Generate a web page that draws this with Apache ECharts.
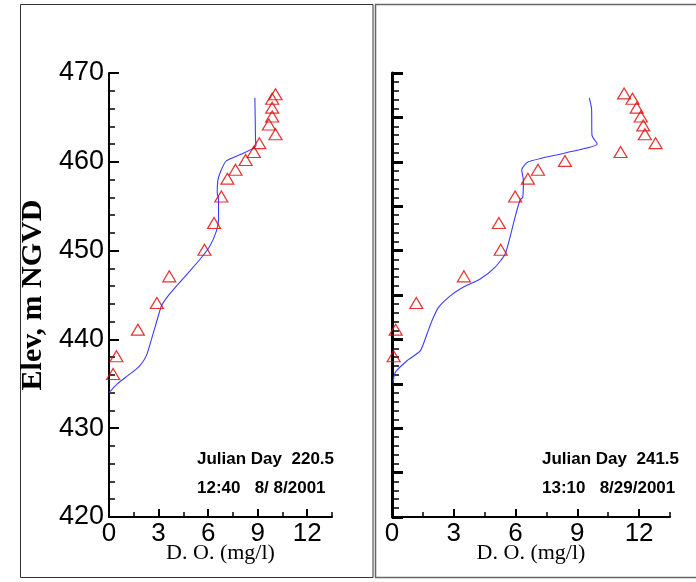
<!DOCTYPE html>
<html>
<head>
<meta charset="utf-8">
<script src="https://cdn.jsdelivr.net/npm/echarts@6/dist/echarts.min.js"></script>
<style>
html,body{margin:0;padding:0;background:#fff;}
#c{width:696px;height:582px;}
</style>
</head>
<body>
<div id="c"></div>
<script>
// ---- Data ----
var xMajorTicks = [0, 3, 6, 9, 12];
var xMinorTicks = [1.5, 4.5, 7.5, 10.5, 13.5];
var yTickLabels = [420, 430, 440, 450, 460, 470];

// Left panel (Julian Day 220.5) observed D.O. (triangles)
var leftObsDO   = [0.25, 0.45, 1.75, 2.9, 3.65, 5.78, 6.36, 6.8, 7.17, 7.66, 8.27, 8.77, 9.1, 10.08, 9.68, 9.88, 9.88, 9.88, 10.08];
var leftObsElev = [436.1, 438.1, 441.1, 444.1, 447.1, 450.1, 453.1, 456.1, 458.1, 459.1, 460.2, 461.1, 462.1, 463.1, 464.2, 465.1, 466.1, 467.1, 467.6];
// Left panel model D.O. (line)
var leftModelDO   = [0.0, 0.5, 1.2, 1.85, 2.27, 2.57, 2.87, 3.18, 3.58, 4.08, 4.89, 5.5, 6.1, 6.5, 6.63, 6.63, 6.55, 6.6, 6.8, 7.1, 8.9, 8.87, 8.85, 8.83];
var leftModelElev = [434.0, 435.0, 436.0, 437.0, 438.2, 440.0, 441.9, 443.8, 444.9, 446.0, 447.7, 449.0, 450.5, 452.2, 453.5, 455.8, 456.5, 458.0, 459.1, 460.1, 461.8, 462.5, 465.0, 467.2];

// Right panel (Julian Day 241.5) observed D.O. (triangles)
var rightObsDO   = [0.08, 0.18, 1.18, 3.49, 5.28, 5.19, 5.98, 6.6, 7.09, 8.4, 11.1, 12.8, 12.28, 12.2, 12.08, 11.88, 11.68, 11.27];
var rightObsElev = [438.1, 441.1, 444.1, 447.1, 450.1, 453.1, 456.1, 458.1, 459.1, 460.1, 461.1, 462.1, 463.1, 464.1, 465.1, 466.1, 467.1, 467.7];
// Right panel model D.O. (line)
var rightModelDO   = [0.05, 0.16, 0.73, 1.37, 1.7, 1.94, 2.26, 2.83, 3.47, 4.28, 5.0, 5.49, 5.73, 5.98, 6.22, 6.35, 6.38, 6.3, 6.62, 8.4, 9.97, 9.71, 9.69, 9.58];
var rightModelElev = [435.1, 436.3, 437.6, 438.7, 440.6, 442.1, 443.6, 444.9, 445.9, 446.8, 448.1, 449.6, 451.5, 453.8, 455.7, 456.0, 457.9, 459.1, 460.0, 461.0, 462.0, 463.0, 466.0, 467.2];

var leftNote1 = 'Julian Day  220.5', leftNote2 = '12:40   8/ 8/2001';
var rightNote1 = 'Julian Day  241.5', rightNote2 = '13:10   8/29/2001';

function pairs(a, b) { return a.map(function (v, i) { return [v, b[i]]; }); }

var SANS = 'Liberation Sans, Arial, sans-serif';
var SERIF = 'Liberation Serif, Times New Roman, serif';

function xAxesFor(gi, name) {
  return [
    {
      type: 'value', gridIndex: gi, position: 'bottom', min: 0, max: 13.5, interval: 3,
      axisLine: { show: true, onZero: false, lineStyle: { color: '#000', width: 2 } },
      axisTick: { show: true, inside: true, length: 8, customValues: xMajorTicks, lineStyle: { color: '#000', width: 2 } },
      axisLabel: { show: true, customValues: xMajorTicks, fontSize: 26, color: '#000', fontFamily: SANS, margin: 4 },
      splitLine: { show: false },
      name: name, nameLocation: 'middle', nameGap: 25, nameMoveOverlap: false,
      nameTextStyle: { fontFamily: SERIF, fontSize: 22, color: '#000' }
    },
    {
      type: 'value', gridIndex: gi, position: 'bottom', min: 0, max: 13.5, interval: 1.5,
      axisLine: { show: false, onZero: false },
      axisTick: { show: true, inside: true, length: 5, customValues: xMinorTicks, lineStyle: { color: '#000', width: 1.5 } },
      axisLabel: { show: false },
      splitLine: { show: false }
    }
  ];
}

var option = {
  backgroundColor: '#fff',
  animation: false,
  grid: [
    { left: 109, top: 73, width: 223, height: 444, containLabel: false, outerBoundsMode: 'none' },
    { left: 392, top: 73, width: 278, height: 444, containLabel: false, outerBoundsMode: 'none' }
  ],
  xAxis: [].concat(xAxesFor(0, 'D. O. (mg/l)'), xAxesFor(1, 'D. O. (mg/l)')),
  yAxis: [
    {
      type: 'value', gridIndex: 0, min: 420, max: 470, interval: 10,
      axisLine: { show: true, onZero: false, lineStyle: { color: '#000', width: 2 } },
      axisTick: { show: true, inside: true, length: 10, lineStyle: { color: '#000', width: 2 } },
      minorTick: { show: true, splitNumber: 5, length: 6, lineStyle: { color: '#000', width: 1.5 } },
      axisLabel: { show: true, fontSize: 27, color: '#000', fontFamily: SANS, margin: 5,
        customValues: yTickLabels },
      splitLine: { show: false }, minorSplitLine: { show: false },
      name: 'Elev, m NGVD', nameLocation: 'middle', nameGap: 61, nameMoveOverlap: false,
      nameTextStyle: { fontFamily: SERIF, fontWeight: 'bold', fontSize: 30, color: '#000' }
    },
    {
      type: 'value', gridIndex: 1, min: 420, max: 470, interval: 5,
      axisLine: { show: true, onZero: false, lineStyle: { color: '#000', width: 3 } },
      axisTick: { show: true, inside: true, length: 11, lineStyle: { color: '#000', width: 3 } },
      minorTick: { show: true, splitNumber: 5, length: 7, lineStyle: { color: '#000', width: 1.5 } },
      axisLabel: { show: false },
      splitLine: { show: false }, minorSplitLine: { show: false }
    }
  ],
  series: [
    { type: 'line', xAxisIndex: 0, yAxisIndex: 0, data: pairs(leftModelDO, leftModelElev),
      showSymbol: false, symbol: 'none', smooth: 0.2, lineStyle: { color: '#3c3cff', width: 1.1 }, z: 3 },
    { type: 'scatter', xAxisIndex: 0, yAxisIndex: 0, data: pairs(leftObsDO, leftObsElev),
      symbol: 'triangle', symbolSize: [13, 11],
      itemStyle: { color: 'transparent', borderColor: '#e00000', borderWidth: 1.2 }, z: 4 },
    { type: 'line', xAxisIndex: 2, yAxisIndex: 1, data: pairs(rightModelDO, rightModelElev),
      showSymbol: false, symbol: 'none', smooth: 0.2, lineStyle: { color: '#3c3cff', width: 1.1 }, z: 3 },
    { type: 'scatter', xAxisIndex: 2, yAxisIndex: 1, data: pairs(rightObsDO, rightObsElev),
      symbol: 'triangle', symbolSize: [13, 11],
      itemStyle: { color: 'transparent', borderColor: '#e00000', borderWidth: 1.2 }, z: 4 }
  ],
  graphic: [
    { type: 'rect', shape: { x: 20.5, y: 4.5, width: 352.5, height: 573 },
      style: { fill: 'none', stroke: '#333', lineWidth: 1 }, silent: true, z: -1 },
    { type: 'rect', shape: { x: 375.5, y: 4.5, width: 340, height: 573 },
      style: { fill: 'none', stroke: '#666', lineWidth: 1.5 }, silent: true, z: -1 },
    { type: 'text', left: 197, top: 451, style: { text: leftNote1, font: 'bold 17px ' + SANS, fill: '#000' } },
    { type: 'text', left: 197, top: 480, style: { text: leftNote2, font: 'bold 17px ' + SANS, fill: '#000' } },
    { type: 'text', left: 542, top: 451, style: { text: rightNote1, font: 'bold 17px ' + SANS, fill: '#000' } },
    { type: 'text', left: 542, top: 480, style: { text: rightNote2, font: 'bold 17px ' + SANS, fill: '#000' } }
  ]
};

var chart = echarts.init(document.getElementById('c'), null, { renderer: 'canvas' });
chart.setOption(option);
</script>
</body>
</html>
